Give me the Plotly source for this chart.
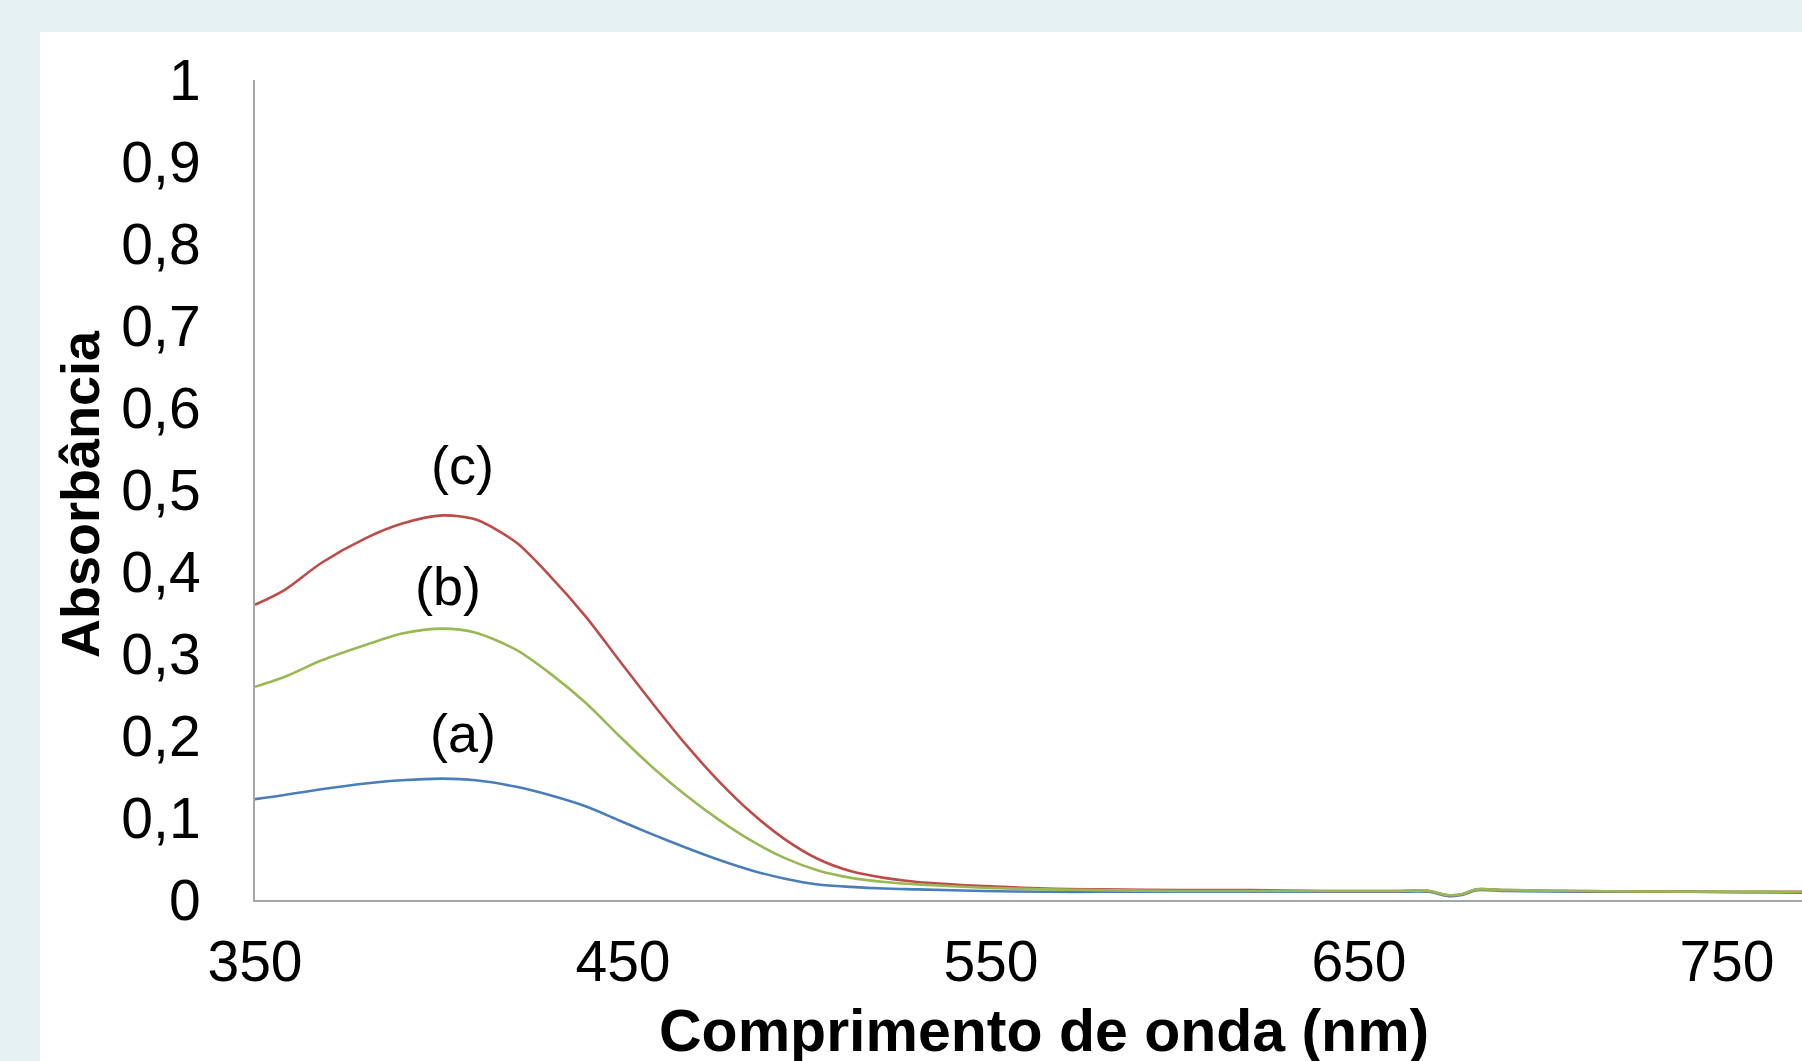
import plotly.graph_objects as go

# ---------------- data ----------------
wavelength = [350, 358, 368, 380, 390, 401, 410, 421, 430, 440, 449, 458, 467, 476,
              485, 494, 503, 512, 521, 530, 548, 565, 580, 600, 620, 640, 660, 669,
              674, 678, 682, 690, 710, 740, 770, 800]

abs_a = [0.123, 0.128, 0.135, 0.142, 0.146, 0.148, 0.146, 0.138, 0.128, 0.114, 0.097,
         0.080, 0.064, 0.049, 0.036, 0.026, 0.019, 0.016, 0.014, 0.013, 0.011, 0.010,
         0.010, 0.010, 0.010, 0.010, 0.010, 0.010, 0.005, 0.006, 0.012, 0.011, 0.010,
         0.010, 0.009, 0.009]

abs_b = [0.260, 0.272, 0.292, 0.311, 0.325, 0.331, 0.326, 0.305, 0.277, 0.240, 0.200,
         0.162, 0.128, 0.098, 0.072, 0.051, 0.036, 0.027, 0.022, 0.019, 0.015, 0.013,
         0.012, 0.011, 0.011, 0.011, 0.011, 0.011, 0.006, 0.007, 0.013, 0.012, 0.011,
         0.010, 0.010, 0.010]

abs_c = [0.360, 0.378, 0.411, 0.441, 0.459, 0.469, 0.464, 0.436, 0.396, 0.345, 0.292,
         0.240, 0.190, 0.145, 0.106, 0.074, 0.050, 0.035, 0.027, 0.022, 0.017, 0.014,
         0.013, 0.012, 0.012, 0.011, 0.011, 0.011, 0.006, 0.007, 0.013, 0.012, 0.011,
         0.010, 0.010, 0.010]

series_labels = ["(a)", "(b)", "(c)"]
label_x = [406.6, 402.5, 406.3]
label_y = [0.204, 0.383, 0.530]

x_tickvals = [350, 450, 550, 650, 750]
x_ticktext = ["350", "450", "550", "650", "750"]
y_tickvals = [0, 0.1, 0.2, 0.3, 0.4, 0.5, 0.6, 0.7, 0.8, 0.9, 1]
y_ticktext = ["0", "0,1", "0,2", "0,3", "0,4", "0,5", "0,6", "0,7", "0,8", "0,9", "1"]

x_title = "Comprimento de onda (nm)"
y_title = "Absorbância"

# ---------------- styling ----------------
FONT = "Liberation Sans, Arial, sans-serif"
BLUE, GREEN, RED = "#4A7EBB", "#98B954", "#BE4B48"
W, H = 1802, 1061
L, R, T, B = 255, 0, 80, 161
PW, PH = W - L - R, H - T - B


def px_to_paper_x(px):
    return (px - L) / PW


def px_to_paper_y(py):
    return (H - B - py) / PH


fig = go.Figure()
for yvals, color in [(abs_a, BLUE), (abs_c, RED), (abs_b, GREEN)]:
    fig.add_trace(go.Scatter(x=wavelength, y=yvals, mode="lines",
                             line=dict(color=color, width=2.6, shape="spline", smoothing=0.8),
                             hoverinfo="skip"))

for txt, lx, ly in zip(series_labels, label_x, label_y):
    fig.add_annotation(x=lx, y=ly, xref="x", yref="y", text=txt, showarrow=False,
                       font=dict(family=FONT, size=54, color="black"),
                       xanchor="center", yanchor="middle")

fig.add_annotation(x=px_to_paper_x(1044), y=px_to_paper_y(1031), xref="paper", yref="paper",
                   text="<b>" + x_title + "</b>", showarrow=False,
                   font=dict(family=FONT, size=59, color="black"),
                   xanchor="center", yanchor="middle")
fig.add_annotation(x=px_to_paper_x(80), y=px_to_paper_y(494), xref="paper", yref="paper",
                   text="<b>" + y_title + "</b>", showarrow=False, textangle=-90,
                   font=dict(family=FONT, size=54, color="black"),
                   xanchor="center", yanchor="middle")

# white panel on light-blue background
fig.add_shape(type="rect", xref="paper", yref="paper",
              x0=px_to_paper_x(40), x1=px_to_paper_x(W + 5),
              y0=px_to_paper_y(H + 5), y1=px_to_paper_y(32),
              fillcolor="white", line=dict(width=0), layer="below")

fig.update_layout(
    width=W, height=H,
    margin=dict(l=L, r=R, t=T, b=B, pad=0),
    paper_bgcolor="#E6F1F4",
    plot_bgcolor="white",
    showlegend=False,
    font=dict(family=FONT, size=57, color="black"),
)
fig.update_xaxes(range=[350, 770.4], tickvals=x_tickvals, ticktext=x_ticktext,
                 showgrid=False, zeroline=False, showline=True, linecolor="#A6A6A6",
                 linewidth=2, ticks="", ticklabelstandoff=11,
                 tickfont=dict(family=FONT, size=57, color="black"))
fig.update_yaxes(range=[0, 1], tickvals=y_tickvals, ticktext=y_ticktext,
                 showgrid=False, zeroline=False, showline=True, linecolor="#A6A6A6",
                 linewidth=2, ticks="", ticklabelstandoff=41,
                 tickfont=dict(family=FONT, size=57, color="black"))

fig.write_html("out.html", config={"displayModeBar": False},
               post_script="document.body.style.margin='0';document.body.style.overflow='hidden';")
